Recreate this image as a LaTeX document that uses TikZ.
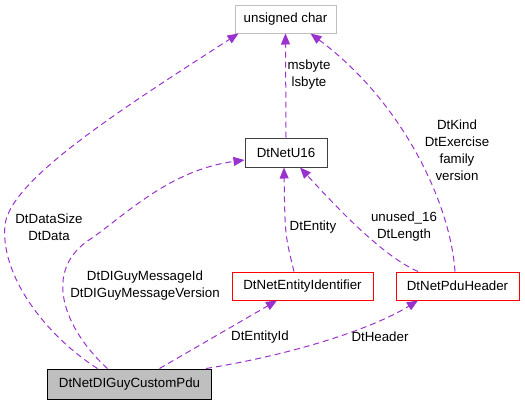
\documentclass[tikz,border=0pt]{standalone}
\usepackage{fontspec}
\setmainfont{Liberation Sans}
\usetikzlibrary{arrows.meta}
\definecolor{edgec}{HTML}{9A32CD}
\definecolor{grayc}{HTML}{BFBFBF}
\begin{document}
\begin{tikzpicture}[x=1pt,y=-1pt,
  font=\fontsize{13.3}{17}\selectfont,
  box/.style={draw, line width=1pt, minimum height=#1, inner sep=0pt, anchor=center},
  box/.default=28pt,
  rel/.style={draw=edgec, line width=1pt, dash pattern=on 6pt off 4pt,
    -{Triangle[length=11pt,width=9pt]}},
  lbl/.style={align=center, inner sep=0pt}]
\useasboundingbox (0,0) rectangle (525,405);
\node[box, draw=grayc, minimum width=101pt] (uc) at (285.5,19) {unsigned char};
\node[box=29pt, draw=black!75, minimum width=82pt] (u16) at (286,152.5) {DtNetU16};
\node[box, draw=red, minimum width=141pt] (ei) at (302.5,286) {DtNetEntityIdentifier};
\node[box, draw=red, minimum width=123pt] (ph) at (457.5,286) {DtNetPduHeader};
\node[box=30pt, draw=black, fill=grayc, minimum width=164pt] (cp) at (129.5,384) {DtNetDIGuyCustomPdu};

\draw[rel] ([xshift=-32pt]cp.north) .. controls (45,335) and (0,275) .. (5,225)
  .. controls (10,180) and (120,110) .. ([xshift=-47pt]uc.south);
\draw[rel] ([xshift=-22pt]cp.north) .. controls (65,330) and (40,270) .. (92,238)
  .. controls (125,215) and (170,170) .. ([yshift=-7.5pt]u16.west);
\draw[rel] ([xshift=30pt]cp.north) -- ([xshift=-25.5pt]ei.south);
\draw[rel] ([xshift=-6pt]cp.north east) .. controls (290,355) and (370,330) .. ([xshift=-39.5pt]ph.south);
\draw[rel] ([xshift=-8.5pt]ei.north) .. controls (285,235) .. ([xshift=-2pt]u16.south);
\draw[rel] ([xshift=-39.5pt]ph.north) .. controls (380,255) and (330,200) .. ([xshift=14pt]u16.south);
\draw[rel] ([xshift=-2.5pt]ph.north) .. controls (450,200) and (400,100) .. ([xshift=25pt]uc.south);
\draw[rel] (u16.north) -- (uc.south);

\node[lbl] (l1) at (49,227) {DtDataSize\\DtData};
\node[lbl] (l2) at (145,285.5) {DtDIGuyMessageId\\DtDIGuyMessageVersion};
\node[lbl] (l3) at (260,337) {DtEntityId};
\node[lbl] (l4) at (380,337) {DtHeader};
\node[lbl] (l5) at (313,227) {DtEntity};
\node[lbl] (l6) at (404,227) {unused\_16\\DtLength};
\node[lbl] (l7) at (457,150) {DtKind\\DtExercise\\family\\version};
\node[lbl] (l8) at (309,75) {msbyte\\lsbyte};
\end{tikzpicture}
\end{document}
